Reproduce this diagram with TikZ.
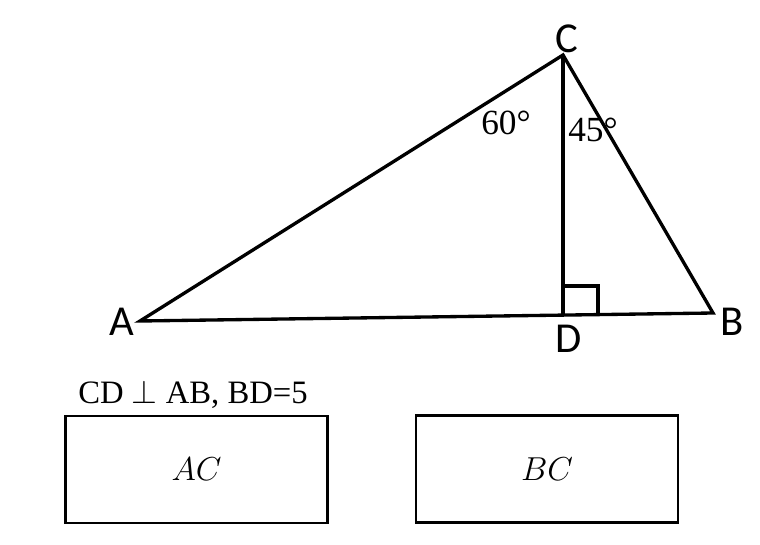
\documentclass[tikz,border=0pt]{standalone}
\usepackage{fontspec}
\setmainfont{Liberation Serif}
\newfontfamily\vertexfont{Carlito}
\usetikzlibrary{positioning}

\tikzset{
	vertexlabel/.style={font=\vertexfont\fontsize{32}{34}\selectfont, inner sep=0pt},
	anglelabel/.style={font=\fontsize{26.5}{28}\selectfont, inner sep=0pt},
	answerbox/.style={draw, line width=1.6pt, minimum width=196.5pt, minimum height=80.25pt, inner sep=0pt, font=\fontsize{26}{28}\selectfont},
}

\begin{document}
\begin{tikzpicture}[x=0.75pt, y=-0.75pt]
		%%%%% START %%%%%
		\useasboundingbox (0, 0) rectangle (760, 545);
		
		\coordinate (A) at (140, 321);
		\coordinate (B) at (713, 313);
		\coordinate (C) at (563, 55);
		\coordinate (D) at (563, 315);
		
		\draw[line width=2.5pt, line join=miter] (A) -- (B) -- (C) -- cycle;
		\draw[line width=2.5pt] (C) -- (D);
		\draw[line width=2.4pt] (563, 286) -- (598, 286) -- (598, 315);
		
		\node[vertexlabel] (labelA) at (122, 322) {A};
		\node[vertexlabel] (labelB) at (732, 322) {B};
		\node[vertexlabel] (labelC) at (567, 39) {C};
		\node[vertexlabel] (labelD) at (569, 339) {D};
		
		\node[anglelabel] (angleC1) at (506, 123) {60\textdegree};
		\node[anglelabel] (angleC2) at (593, 130) {45\textdegree};
		
		\node[font=\fontsize{24.5}{26}\selectfont, inner sep=0pt] (given) at (193, 394) {CD $\perp$ AB, BD=5};
		
		\node[answerbox] (boxAC) at (196.5, 469.5) {$AC$};
		\node[answerbox] (boxBC) at (547, 469) {$BC$};
		%%%%% END %%%%%
\end{tikzpicture}
\end{document}
